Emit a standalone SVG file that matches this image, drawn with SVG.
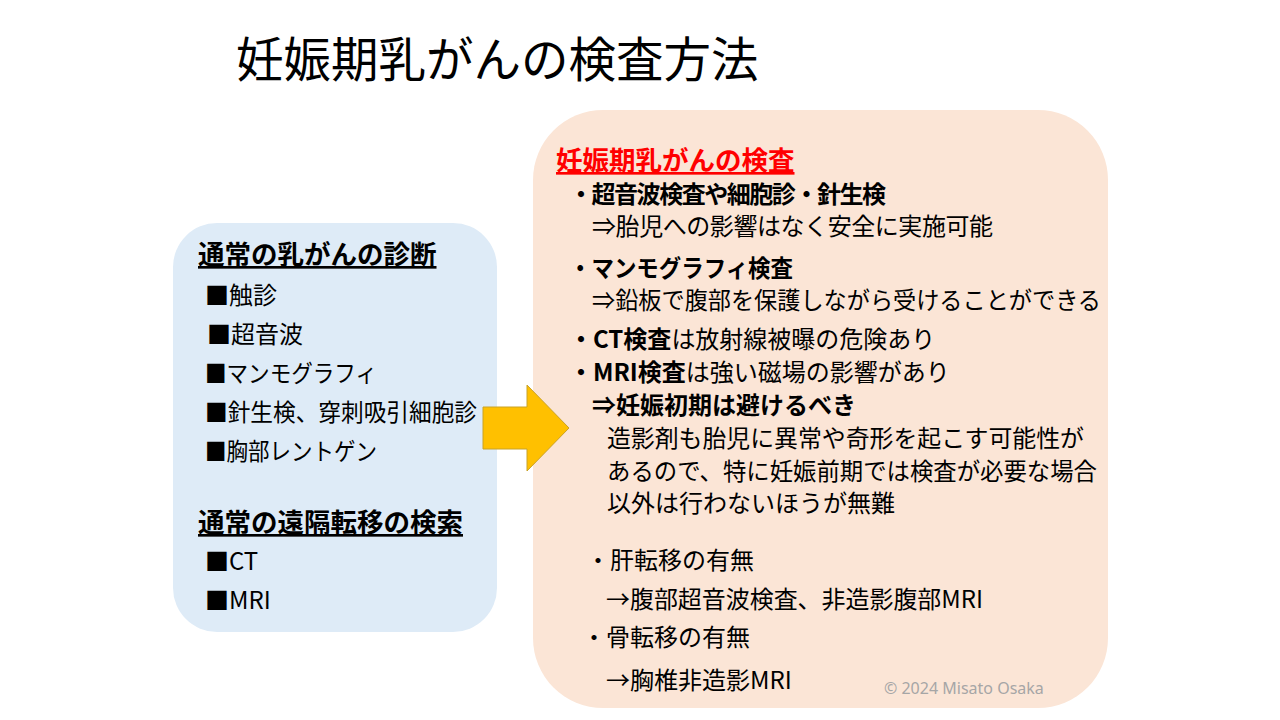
<svg xmlns="http://www.w3.org/2000/svg" width="1280" height="720" viewBox="0 0 1280 720">
<style>
text{font-family:"Noto Sans CJK JP","Noto Sans",sans-serif;fill:#000}
.t{font-size:47.5px}
.h{font-size:26.5px;font-weight:bold;text-decoration:underline}
.i{font-size:24px}
.r{font-size:24px}
.b{font-weight:bold}
.red{fill:#FF0000}
.c{font-size:16px;fill:#A6A6A6;font-family:"Noto Sans","Liberation Sans",sans-serif}
</style>
<rect width="1280" height="720" fill="#FFFFFF"/>
<text class="t" x="236" y="77">妊娠期乳がんの検査方法</text>
<g id="left-box">
<rect x="173" y="223" width="324" height="409" rx="44" ry="44" fill="#DEEBF7"/>
<text class="h" x="198" y="264">通常の乳がんの診断</text>
<text class="i" x="205" y="304">■触診</text>
<text class="i" x="207" y="343">■超音波</text>
<text class="i" x="205" y="382" textLength="172" lengthAdjust="spacingAndGlyphs">■マンモグラフィ</text>
<text class="i" x="205" y="421" textLength="272" lengthAdjust="spacingAndGlyphs">■針生検、穿刺吸引細胞診</text>
<text class="i" x="205" y="460" textLength="172" lengthAdjust="spacingAndGlyphs">■胸部レントゲン</text>
<text class="h" x="198" y="532">通常の遠隔転移の検索</text>
<text class="i" x="205" y="570">■CT</text>
<text class="i" x="205" y="609">■MRI</text>
</g>
<g id="right-box">
<rect x="533" y="110" width="575" height="598" rx="70" ry="70" fill="#FBE5D6"/>
<text class="h red" x="556" y="170">妊娠期乳がんの検査</text>
<text class="r b" x="569" y="203" textLength="317">・超音波検査や細胞診・針生検</text>
<text class="r" x="592" y="235" textLength="401">⇒胎児への影響はなく安全に実施可能</text>
<text class="r b" x="569" y="277" textLength="224" lengthAdjust="spacingAndGlyphs">・マンモグラフィ検査</text>
<text class="r" x="592" y="309" textLength="509" lengthAdjust="spacingAndGlyphs">⇒鉛板で腹部を保護しながら受けることができる</text>
<text class="r" x="569" y="348"><tspan class="b">・CT検査</tspan>は放射線被曝の危険あり</text>
<text class="r" x="569" y="381"><tspan class="b">・MRI検査</tspan>は強い磁場の影響があり</text>
<text class="r b" x="592" y="414">⇒妊娠初期は避けるべき</text>
<text class="r" x="607" y="447" textLength="477" lengthAdjust="spacingAndGlyphs">造影剤も胎児に異常や奇形を起こす可能性が</text>
<text class="r" x="607" y="480" textLength="490" lengthAdjust="spacingAndGlyphs">あるので、特に妊娠前期では検査が必要な場合</text>
<text class="r" x="607" y="512">以外は行わないほうが無難</text>
<text class="r" x="586" y="569">・肝転移の有無</text>
<text class="r" x="606" y="608" textLength="377" lengthAdjust="spacingAndGlyphs">→腹部超音波検査、非造影腹部MRI</text>
<text class="r" x="582" y="646">・骨転移の有無</text>
<text class="r" x="606" y="689">→胸椎非造影MRI</text>
<text class="c" x="884" y="694">© 2024 Misato Osaka</text>
</g>
<g id="connectors">
<polygon points="483,407 527,407 527,385 569,428 527,471 527,449 483,449" fill="#FFC000" stroke="#C9A227" stroke-width="1"/>
</g>
</svg>
